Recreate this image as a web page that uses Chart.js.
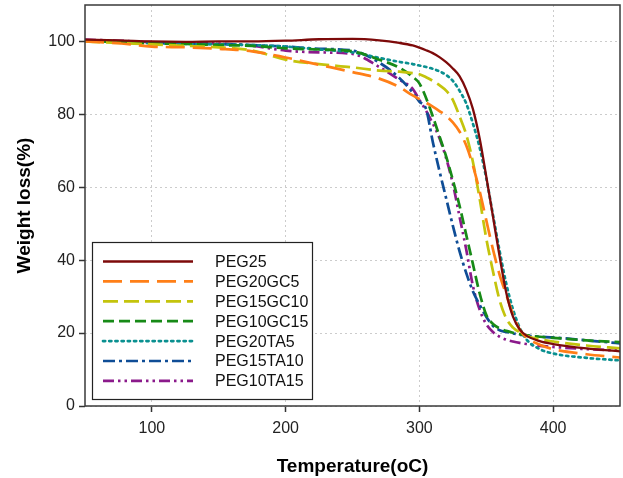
<!DOCTYPE html>
<html>
<head>
<meta charset="utf-8">
<script src="https://cdn.jsdelivr.net/npm/chart.js@4.4.1/dist/chart.umd.min.js"></script>
<style>
html,body{margin:0;padding:0;background:#fff;}
#wrap{width:623px;height:478px;}
</style>
</head>
<body>
<div id="wrap"><canvas id="c" width="623" height="478"></canvas></div>
<script>
const temps = [50,75,100,125,150,175,200,225,250,270,285,295,300,305,310,315,320,325,330,335,340,345,350,355,360,365,370,375,380,390,400,425,450];
const peg25    = [100.5,100.3,100,99.9,100,100,100.2,100.6,100.7,100.3,99.6,98.9,98.3,97.6,96.8,95.7,94.3,92.6,90.5,86.8,81.5,73.5,63,52,41,31,24.5,21,19.3,17.8,17,15.8,15];
const peg20gc5 = [100,99.5,98.6,98.4,98,97.3,95.6,93.6,91.6,89.8,87.5,85.2,84.2,83.2,82.1,80.9,79.6,77.8,75.3,71.5,66,59,51,43,36,30.5,25,21,18.8,16.8,15.6,14.2,13.3];
const peg15gc10= [100,99.6,99.2,98.8,98.4,97.5,95,93.8,92.9,92,91.7,91.3,91,90.2,89.2,88,86.5,84,79.5,74.5,67,57,46,37,29,24,21.5,20.2,19.3,18.3,17.7,16.6,15.8];
const peg10gc15= [100.2,99.8,99.5,99.3,99,98.8,98.1,97.8,97.3,95,92.8,90.3,88.5,84.5,79.5,74,68.5,62,55,47,39,31,25,22.5,21.3,20.6,20.1,19.7,19.4,19,18.7,18,17.5];
const peg20ta5 = [100.3,100,99.5,99.3,99.2,99,98.6,97.8,97,95.5,94.4,93.8,93.4,93,92.5,91.8,90.8,89.2,86.5,83,77.5,71,62.5,52.5,42.5,33.5,26.5,21.5,18.3,15.6,14.4,13.2,12.5];
const peg15ta10= [100.3,100,99.6,99.4,99.3,99,98.6,98,97.5,94.2,90,86,83.5,81.5,72.5,64.5,57,49.5,42.5,36.5,31.5,27.8,24.5,22,20.8,20.3,19.9,19.6,19.3,19,18.8,18,17.2];
const peg10ta15= [100.5,100.2,99.8,99.6,99.4,98.8,97.5,97,96.6,93,89.5,87,84,81,77.5,73.5,68,61,52,43,33,26.5,22.5,20.3,19,18.2,17.7,17.3,17,16.5,16.2,15.6,15.2];
const seriesNames = ['PEG25','PEG20GC5','PEG15GC10','PEG10GC15','PEG20TA5','PEG15TA10','PEG10TA15'];
const xTicks = [100,200,300,400];
const yTicks = [0,20,40,60,80,100];

const FONT = "'Liberation Sans', Arial, sans-serif";
const styles = [
  {color:'#7d0a0a', dash:[], width:2.3},
  {color:'#ff7f17', dash:[19,8], width:2.7},
  {color:'#c4c40c', dash:[15,6], width:2.7},
  {color:'#178a17', dash:[11,5], width:2.7},
  {color:'#0a9090', dash:[2.2,4], width:2.7},
  {color:'#0f4d96', dash:[12,4,3,4], width:2.7},
  {color:'#8b1a8b', dash:[11,4,2.5,4,2.5,4], width:2.7}
];
const allVals = [peg25,peg20gc5,peg15gc10,peg10gc15,peg20ta5,peg15ta10,peg10ta15];
const datasets = allVals.map((vals,i)=>({
  label: seriesNames[i],
  data: temps.map((t,j)=>({x:t,y:vals[j]})),
  borderColor: styles[i].color,
  borderDash: styles[i].dash,
  borderWidth: styles[i].width,
  borderCapStyle: i===4 ? 'round' : 'butt',
  pointRadius: 0,
  fill: false,
  cubicInterpolationMode: 'monotone'
}));

const framePlugin = {
  id:'frame',
  afterDraw(chart){
    const {ctx, chartArea:a} = chart;
    ctx.save();
    ctx.strokeStyle = '#3a3a3a';
    ctx.lineWidth = 1.5;
    ctx.setLineDash([]);
    ctx.strokeRect(a.left, a.top, a.right-a.left, a.bottom-a.top);
    // legend
    const lx = 92.5, ly = 242.5, lw = 220, lh = 157;
    ctx.fillStyle = '#fff';
    ctx.fillRect(lx, ly, lw, lh);
    ctx.strokeStyle = '#222';
    ctx.lineWidth = 1.2;
    ctx.strokeRect(lx, ly, lw, lh);
    ctx.font = '16px ' + FONT;
    ctx.textBaseline = 'middle';
    ctx.textAlign = 'left';
    chart.data.datasets.forEach((ds,i)=>{
      const y = 261.5 + i*19.9;
      ctx.beginPath();
      ctx.strokeStyle = ds.borderColor;
      ctx.lineWidth = ds.borderWidth;
      ctx.setLineDash(ds.borderDash);
      ctx.lineCap = ds.borderCapStyle;
      ctx.moveTo(103, y);
      ctx.lineTo(193, y);
      ctx.stroke();
      ctx.setLineDash([]);
      ctx.fillStyle = '#111';
      ctx.fillText(ds.label, 215, y+1);
    });
    ctx.restore();
  }
};

new Chart(document.getElementById('c'), {
  type:'line',
  data:{datasets},
  options:{
    responsive:false,
    animation:false,
    layout:{padding:{top:5,right:3,left:0,bottom:0}},
    plugins:{legend:{display:false},tooltip:{enabled:false}},
    scales:{
      x:{
        type:'linear', min:50, max:450,
        afterBuildTicks:(s)=>{s.ticks = xTicks.map(v=>({value:v}));},
        afterFit:(s)=>{s.height = 72; s.paddingLeft = 0; s.paddingRight = 0;},
        grid:{color:'#cccccc', lineWidth:1, tickLength:6, tickColor:'#333', tickWidth:1.5, tickBorderDash:[]},
        border:{display:false, dash:[2,3]},
        ticks:{color:'#222', font:{family:FONT, size:16}, padding:7, maxRotation:0},
        title:{display:true, text:'Temperature(oC)', color:'#000', font:{family:FONT, size:19, weight:'bold'}, padding:{top:2,bottom:0}}
      },
      y:{
        type:'linear', min:0, max:110,
        afterBuildTicks:(s)=>{s.ticks = yTicks.map(v=>({value:v}));},
        afterFit:(s)=>{s.width = 85; s.paddingTop = 0; s.paddingBottom = 0;},
        grid:{color:'#cccccc', lineWidth:1, tickLength:6, tickColor:'#333', tickWidth:1.5, tickBorderDash:[]},
        border:{display:false, dash:[2,3]},
        ticks:{color:'#222', font:{family:FONT, size:16}, padding:4},
        title:{display:true, text:'Weight loss(%)', color:'#000', font:{family:FONT, size:19, weight:'bold'}, padding:{top:13,bottom:0}}
      }
    }
  },
  plugins:[framePlugin]
});
</script>
</body>
</html>
